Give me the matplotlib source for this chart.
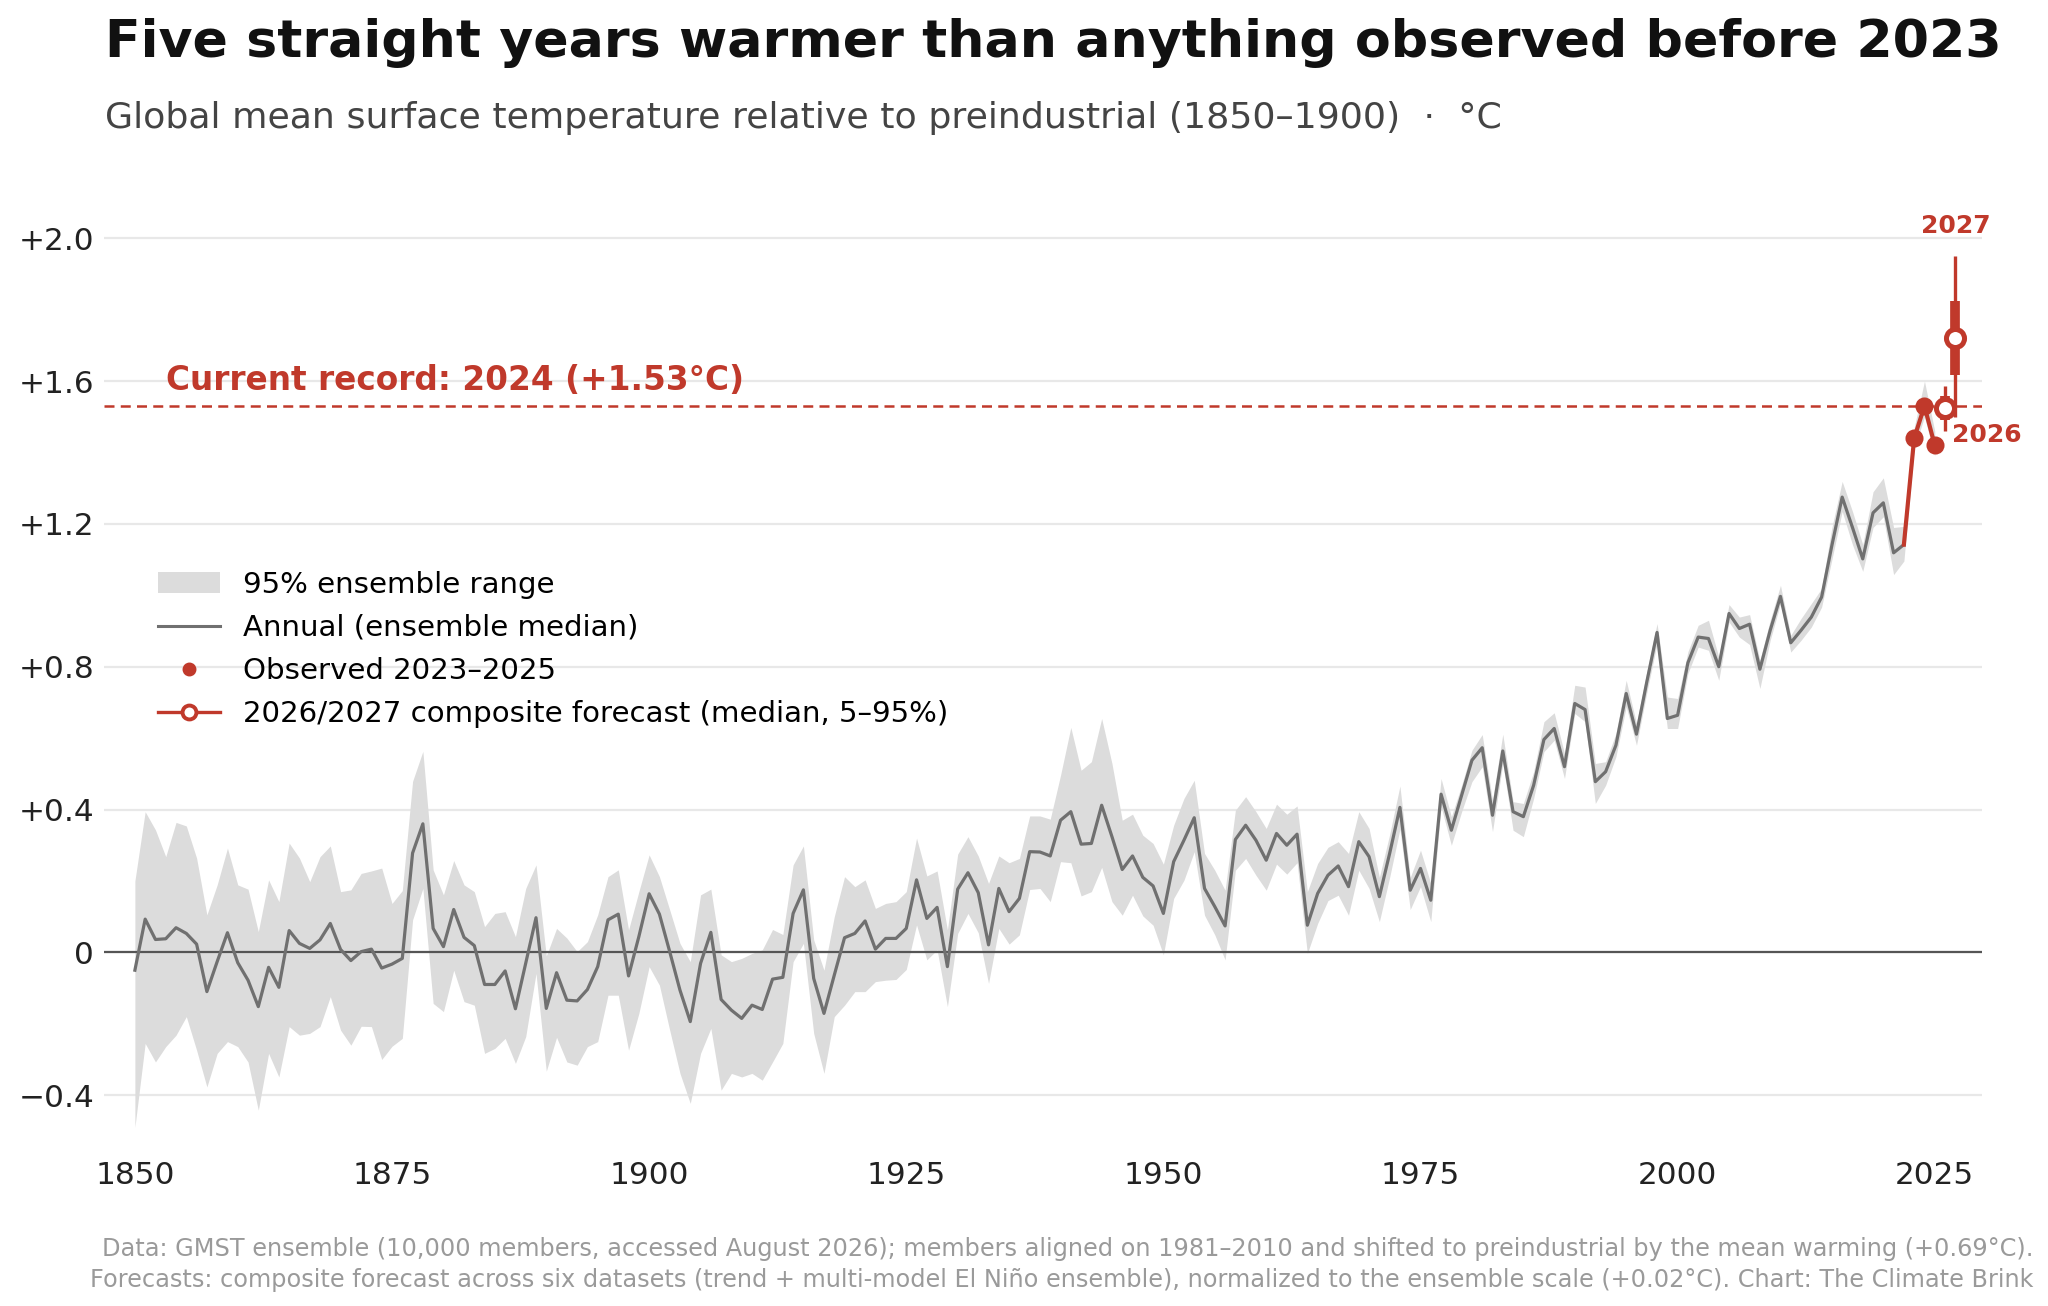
import numpy as np
import matplotlib.pyplot as plt
from matplotlib.lines import Line2D
from matplotlib.patches import Patch

RED = "#c0392b"
GREY = "#707070"
BAND = "#dcdcdc"

# annual ensemble median, 1850-2022
years = np.arange(1850, 2023)
median = [
    -0.05, 0.093, 0.036, 0.038, 0.069, 0.053, 0.023, -0.11, -0.026, 0.055,
    -0.029, -0.078, -0.152, -0.042, -0.098, 0.061, 0.025, 0.011, 0.035, 0.081,
    0.008, -0.023, 0.002, 0.009, -0.044, -0.033, -0.017, 0.278, 0.36, 0.067,
    0.016, 0.12, 0.042, 0.019, -0.09, -0.09, -0.052, -0.158, -0.03, 0.097,
    -0.157, -0.057, -0.134, -0.136, -0.104, -0.04, 0.091, 0.107, -0.066, 0.044,
    0.164, 0.107, 0.002, -0.106, -0.194, -0.031, 0.056, -0.132, -0.162, -0.185,
    -0.148, -0.16, -0.075, -0.07, 0.109, 0.175, -0.073, -0.171, -0.064, 0.041,
    0.053, 0.088, 0.009, 0.039, 0.039, 0.067, 0.203, 0.095, 0.126, -0.04,
    0.177, 0.223, 0.167, 0.021, 0.179, 0.114, 0.151, 0.282, 0.281, 0.27,
    0.37, 0.394, 0.303, 0.305, 0.412, 0.324, 0.232, 0.27, 0.21, 0.186,
    0.109, 0.254, 0.314, 0.377, 0.179, 0.128, 0.074, 0.316, 0.356, 0.314,
    0.258, 0.333, 0.3, 0.331, 0.076, 0.165, 0.216, 0.242, 0.184, 0.31,
    0.268, 0.156, 0.277, 0.406, 0.174, 0.235, 0.146, 0.443, 0.342, 0.44,
    0.538, 0.573, 0.384, 0.564, 0.394, 0.38, 0.468, 0.596, 0.627, 0.52,
    0.697, 0.68, 0.478, 0.506, 0.58, 0.725, 0.611, 0.757, 0.896, 0.655,
    0.664, 0.811, 0.883, 0.879, 0.8, 0.949, 0.907, 0.919, 0.793, 0.902,
    0.997, 0.867, 0.902, 0.939, 0.995, 1.14, 1.275, 1.19, 1.102, 1.231,
    1.259, 1.119, 1.142,
]

# 95% ensemble range, 1850-2025
band_years = np.arange(1850, 2026)
band_hi = [
    0.2, 0.394, 0.343, 0.268, 0.364, 0.354, 0.264, 0.105, 0.189, 0.292,
    0.189, 0.177, 0.058, 0.203, 0.142, 0.306, 0.264, 0.198, 0.268, 0.298,
    0.17, 0.175, 0.221, 0.228, 0.236, 0.137, 0.173, 0.479, 0.563, 0.231,
    0.161, 0.257, 0.189, 0.17, 0.072, 0.109, 0.114, 0.044, 0.179, 0.245,
    -0.01, 0.067, 0.04, 0.002, 0.03, 0.105, 0.212, 0.231, 0.063, 0.17,
    0.273, 0.212, 0.119, 0.025, -0.026, 0.161, 0.177, -0.007, -0.026, -0.017,
    -0.003, 0.007, 0.064, 0.05, 0.245, 0.298, 0.035, -0.05, 0.1, 0.212,
    0.184, 0.203, 0.123, 0.137, 0.142, 0.17, 0.32, 0.214, 0.228, 0.063,
    0.275, 0.324, 0.27, 0.193, 0.27, 0.251, 0.263, 0.382, 0.382, 0.373,
    0.496, 0.63, 0.51, 0.534, 0.655, 0.529, 0.37, 0.387, 0.328, 0.305,
    0.247, 0.356, 0.431, 0.482, 0.277, 0.23, 0.174, 0.398, 0.436, 0.394,
    0.347, 0.415, 0.387, 0.41, 0.17, 0.249, 0.294, 0.31, 0.277, 0.394,
    0.347, 0.21, 0.33, 0.466, 0.21, 0.286, 0.193, 0.487, 0.38, 0.468,
    0.566, 0.61, 0.426, 0.611, 0.422, 0.417, 0.506, 0.646, 0.671, 0.557,
    0.748, 0.743, 0.529, 0.534, 0.613, 0.762, 0.641, 0.785, 0.921, 0.715,
    0.711, 0.842, 0.916, 0.93, 0.827, 0.974, 0.939, 0.946, 0.818, 0.93,
    1.028, 0.888, 0.935, 0.977, 1.019, 1.19, 1.319, 1.235, 1.142, 1.29,
    1.329, 1.19, 1.193, 1.47, 1.60, 1.46,
]
band_lo = [
    -0.49, -0.255, -0.307, -0.264, -0.232, -0.18, -0.274, -0.377, -0.283, -0.25,
    -0.264, -0.307, -0.442, -0.283, -0.349, -0.208, -0.232, -0.227, -0.208, -0.124,
    -0.218, -0.26, -0.207, -0.208, -0.3, -0.263, -0.241, 0.091, 0.179, -0.143,
    -0.166, -0.05, -0.138, -0.148, -0.283, -0.269, -0.241, -0.311, -0.236, -0.059,
    -0.333, -0.238, -0.307, -0.316, -0.264, -0.25, -0.12, -0.12, -0.274, -0.171,
    -0.04, -0.092, -0.218, -0.339, -0.423, -0.283, -0.213, -0.386, -0.339, -0.349,
    -0.339, -0.358, -0.307, -0.255, -0.026, 0.025, -0.227, -0.339, -0.18, -0.148,
    -0.11, -0.11, -0.082, -0.078, -0.076, -0.048, 0.077, -0.021, 0.007, -0.152,
    0.053, 0.109, 0.055, -0.087, 0.067, 0.023, 0.049, 0.176, 0.179, 0.142,
    0.254, 0.251, 0.158, 0.17, 0.238, 0.142, 0.104, 0.16, 0.102, 0.076,
    -0.007, 0.151, 0.202, 0.282, 0.104, 0.049, -0.021, 0.23, 0.263, 0.216,
    0.174, 0.247, 0.219, 0.251, -0.003, 0.081, 0.145, 0.16, 0.104, 0.23,
    0.179, 0.086, 0.21, 0.345, 0.12, 0.184, 0.086, 0.408, 0.3, 0.394,
    0.478, 0.52, 0.338, 0.529, 0.342, 0.324, 0.431, 0.562, 0.594, 0.487,
    0.669, 0.646, 0.417, 0.468, 0.548, 0.688, 0.58, 0.727, 0.865, 0.627,
    0.627, 0.781, 0.855, 0.846, 0.762, 0.925, 0.883, 0.862, 0.739, 0.874,
    0.977, 0.841, 0.874, 0.911, 0.967, 1.1, 1.235, 1.142, 1.067, 1.19,
    1.22, 1.058, 1.096, 1.41, 1.50, 1.39,
]

obs_years = [2023, 2024, 2025]
obs_vals = [1.44, 1.53, 1.42]

fc_years = [2026, 2027]
fc_median = [1.525, 1.72]
fc_lo = [1.46, 1.50]        # 5%
fc_hi = [1.585, 1.95]       # 95%
fc_in_lo = [1.49, 1.618]    # inner range
fc_in_hi = [1.557, 1.825]

record = 1.53

fig = plt.figure(figsize=(10.24, 6.53), dpi=200)
ax = fig.add_axes([0.0508, 0.1341, 0.9170, 0.7108])

ax.fill_between(band_years, band_lo, band_hi, color=BAND, lw=0, zorder=1)
ax.plot(years, median, color=GREY, lw=1.15, zorder=2)
ax.axhline(0, color="#555555", lw=0.8, zorder=1.5)
ax.axhline(record, color=RED, lw=0.9, ls=(0, (4, 2.5)), zorder=2)

# observed: joined to the last median year
ax.plot([years[-1]] + obs_years, [median[-1]] + obs_vals, color=RED, lw=1.5, zorder=4)
ax.plot(obs_years, obs_vals, "o", color=RED, ms=5.5, zorder=5)

# forecasts
ax.vlines(fc_years, fc_lo, fc_hi, color=RED, lw=1.2, zorder=4)
ax.vlines(fc_years, fc_in_lo, fc_in_hi, color=RED, lw=3.5, zorder=4)
ax.plot(fc_years, fc_median, "o", mfc="white", mec=RED, mew=1.8, ms=6.5, ls="none", zorder=6)

ax.text(1853, 1.575, "Current record: 2024 (+1.53°C)", color=RED,
        fontsize=11.8, fontweight="bold", va="baseline")
ax.text(fc_years[1], 2.034, "2027", color=RED, fontsize=9, fontweight="bold",
        ha="center", va="center", clip_on=False)
ax.text(fc_years[0] + 0.7, 1.45, "2026", color=RED, fontsize=9, fontweight="bold",
        ha="left", va="center", clip_on=False)

ax.set_xlim(1847, 2029.6)
ax.set_ylim(-0.5, 2.1)
ax.set_xticks([1850, 1875, 1900, 1925, 1950, 1975, 2000, 2025])
yt = [-0.4, 0, 0.4, 0.8, 1.2, 1.6, 2.0]
ax.set_yticks(yt)
ax.set_yticklabels(["\u22120.4", "0", "+0.4", "+0.8", "+1.2", "+1.6", "+2.0"])
ax.tick_params(axis="both", length=0, labelsize=11.2, labelcolor="#222222")
ax.tick_params(axis="x", pad=11)
ax.tick_params(axis="y", pad=3.5)
ax.grid(axis="y", color="#e8e8e8", lw=0.8)
ax.set_axisbelow(True)
for s in ax.spines.values():
    s.set_visible(False)

handles = [
    Patch(facecolor=BAND, edgecolor="none"),
    Line2D([], [], color=GREY, lw=1.1),
    Line2D([], [], marker="o", color=RED, ls="none", ms=4),
    Line2D([], [], color=RED, lw=1.2, marker="o", mfc="white", mec=RED, mew=1.4, ms=5),
]
labels = ["95% ensemble range", "Annual (ensemble median)", "Observed 2023\u20132025",
          "2026/2027 composite forecast (median, 5\u201395%)"]
ax.legend(handles, labels, loc="upper left", bbox_to_anchor=(0.0288, 0.6035),
          frameon=False, fontsize=10.55, borderpad=0, borderaxespad=0,
          handlelength=2.1, handletextpad=0.8, labelspacing=0.52)

fig.text(105 / 2048, 1 - 57 / 1306, "Five straight years warmer than anything observed before 2023",
         fontsize=18.8, fontweight="bold", color="#111111", va="baseline")
fig.text(105 / 2048, 1 - 128 / 1306,
         "Global mean surface temperature relative to preindustrial (1850\u20131900)  \u00b7  \u00b0C",
         fontsize=13.1, color="#444444", va="baseline")
fig.text(0.993, 0.0105,
         "Data: GMST ensemble (10,000 members, accessed August 2026); members aligned on 1981\u20132010 "
         "and shifted to preindustrial by the mean warming (+0.69\u00b0C).\n"
         "Forecasts: composite forecast across six datasets (trend + multi-model El Ni\u00f1o ensemble), "
         "normalized to the ensemble scale (+0.02\u00b0C). Chart: The Climate Brink",
         fontsize=8.63, color="#9a9a9a", ha="right", va="bottom", multialignment="right",
         linespacing=1.4)

fig.savefig("out.png", dpi=200)
